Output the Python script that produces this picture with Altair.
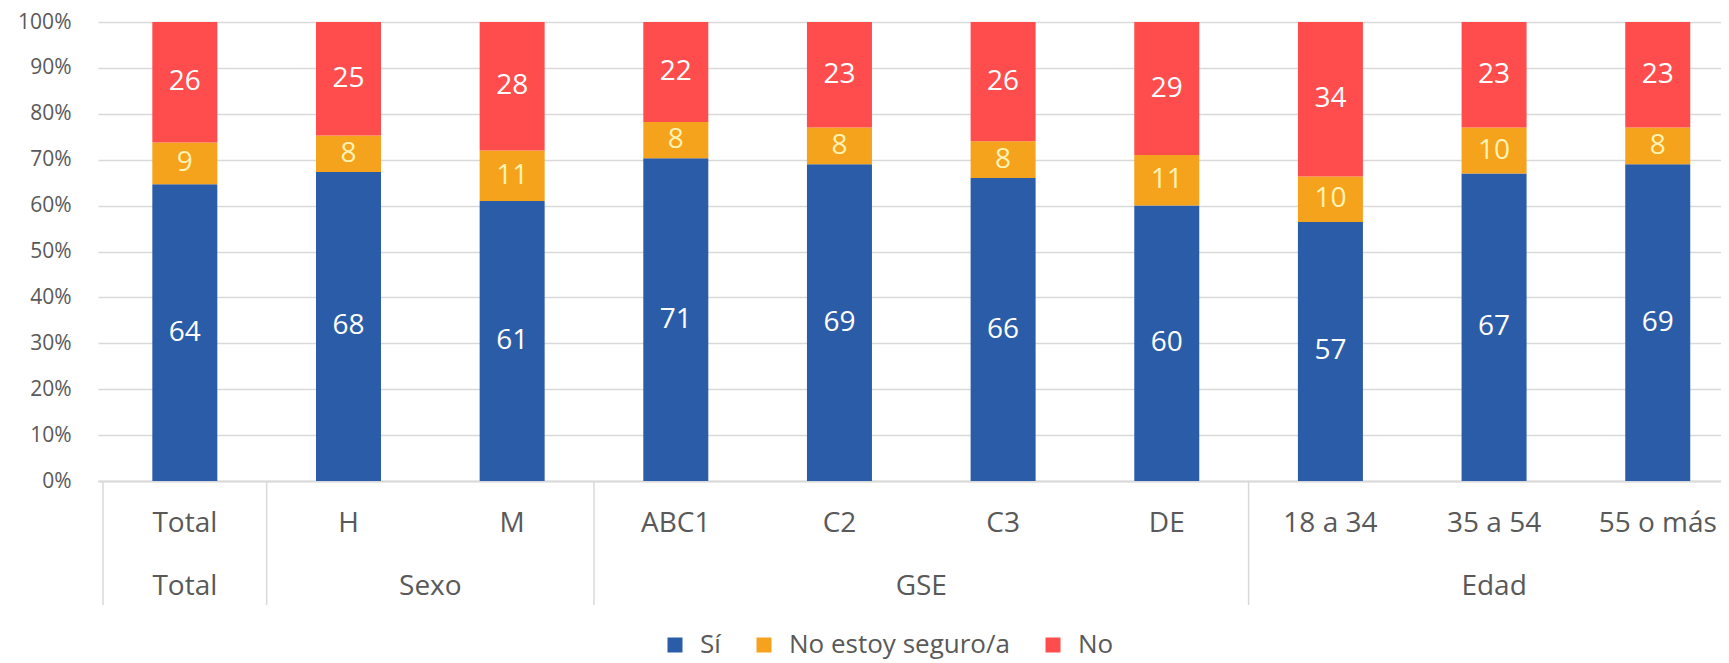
import altair as alt
import pandas as pd

# ---- data ----
categories = ["Total", "H", "M", "ABC1", "C2", "C3", "DE", "18 a 34", "35 a 54", "55 o más"]
groups = ["Total", "Sexo", "GSE", "Edad"]
group_sizes = [1, 2, 4, 3]
series = ["Sí", "No estoy seguro/a", "No"]
si = [64, 68, 61, 71, 69, 66, 60, 57, 67, 69]
no_seguro = [9, 8, 11, 8, 8, 8, 11, 10, 10, 8]
no = [26, 25, 28, 22, 23, 26, 29, 34, 23, 23]
y_ticks = [0, 0.1, 0.2, 0.3, 0.4, 0.5, 0.6, 0.7, 0.8, 0.9, 1.0]

colors = ["#2B5CA8", "#F5A21C", "#FF4D4D"]
FONT = "Open Sans"
GRAY_TXT = "#595959"
GRID = "#D9D9D9"

# ---- tables ----
rows = []
for i, cat in enumerate(categories):
    for k, (name, vals) in enumerate(zip(series, [si, no_seguro, no])):
        rows.append({"cat": cat, "pos": i + 0.5, "series": name, "order": k, "value": vals[i]})
df = pd.DataFrame(rows)

cat_df = pd.DataFrame({"cat": categories, "pos": [i + 0.5 for i in range(len(categories))]})

starts = []
acc = 0
for s in group_sizes:
    starts.append(acc)
    acc += s
group_df = pd.DataFrame({"group": groups, "start": starts, "size": group_sizes})
sep_df = pd.DataFrame({"b": starts + [acc]})

x_scale = alt.Scale(domain=[0, 9.856], nice=False, zero=False)
y_scale = alt.Scale(domain=[0, 1], nice=False)

base = (
    alt.Chart(df)
    .transform_joinaggregate(total="sum(value)", groupby=["cat"])
    .transform_calculate(share="datum.value / datum.total")
    .transform_stack(stack="share", groupby=["cat"], as_=["y0", "y1"],
                     sort=[alt.SortField("order", "ascending")])
    .transform_calculate(mid="(datum.y0 + datum.y1) / 2")
)

bars = base.mark_bar(size=65).encode(
    x=alt.X("pos:Q", scale=x_scale,
            axis=alt.Axis(domain=True, domainColor=GRID, domainWidth=2, labels=False,
                          ticks=False, grid=False, title=None)),
    y=alt.Y("y0:Q", scale=y_scale, stack=None,
            axis=alt.Axis(values=y_ticks, format=".0%", title=None, domain=False, ticks=False,
                          tickSize=0, labelPadding=27, labelFont=FONT, labelFontSize=21,
                          labelColor=GRAY_TXT, gridColor=GRID, gridWidth=1.5)),
    y2="y1:Q",
    color=alt.Color("series:N", scale=alt.Scale(domain=series, range=colors),
                    legend=alt.Legend(orient="none", legendX=564, legendY=610,
                                      direction="horizontal", title=None,
                                      symbolType="square", symbolSize=225,
                                      symbolStrokeWidth=0, labelFont=FONT,
                                      labelFontSize=26, labelColor=GRAY_TXT,
                                      labelLimit=0, labelOffset=12,
                                      columnPadding=30, padding=0)),
)

labels = base.mark_text(font=FONT, fontSize=28).encode(
    x=alt.X("pos:Q", scale=x_scale),
    y=alt.Y("mid:Q", scale=y_scale),
    text=alt.Text("value:Q"),
    color=alt.condition(alt.datum.series == "No estoy seguro/a",
                        alt.value("#FFF3B5"), alt.value("white")),
)

cat_text = alt.Chart(cat_df).mark_text(font=FONT, fontSize=28, color=GRAY_TXT).encode(
    x=alt.X("pos:Q", scale=x_scale),
    y=alt.value(502),
    text="cat:N",
)

group_text = (
    alt.Chart(group_df)
    .transform_calculate(mid="datum.start + datum.size / 2")
    .mark_text(font=FONT, fontSize=28, color=GRAY_TXT)
    .encode(x=alt.X("mid:Q", scale=x_scale), y=alt.value(565), text="group:N")
)

seps = alt.Chart(sep_df).mark_rule(color=GRID, strokeWidth=1.5).encode(
    x=alt.X("b:Q", scale=x_scale),
    y=alt.value(459),
    y2=alt.value(583),
)

chart = (
    alt.layer(bars, labels, seps, cat_text, group_text)
    .properties(width=1623, height=459,
                autosize=alt.AutoSizeParams(type="none"),
                padding={"left": 90, "top": 14, "right": 0, "bottom": 182})
    .configure(font=FONT)
    .configure_view(strokeWidth=0)
)

chart.save("out.html", embed_options={"renderer": "svg", "actions": False})
